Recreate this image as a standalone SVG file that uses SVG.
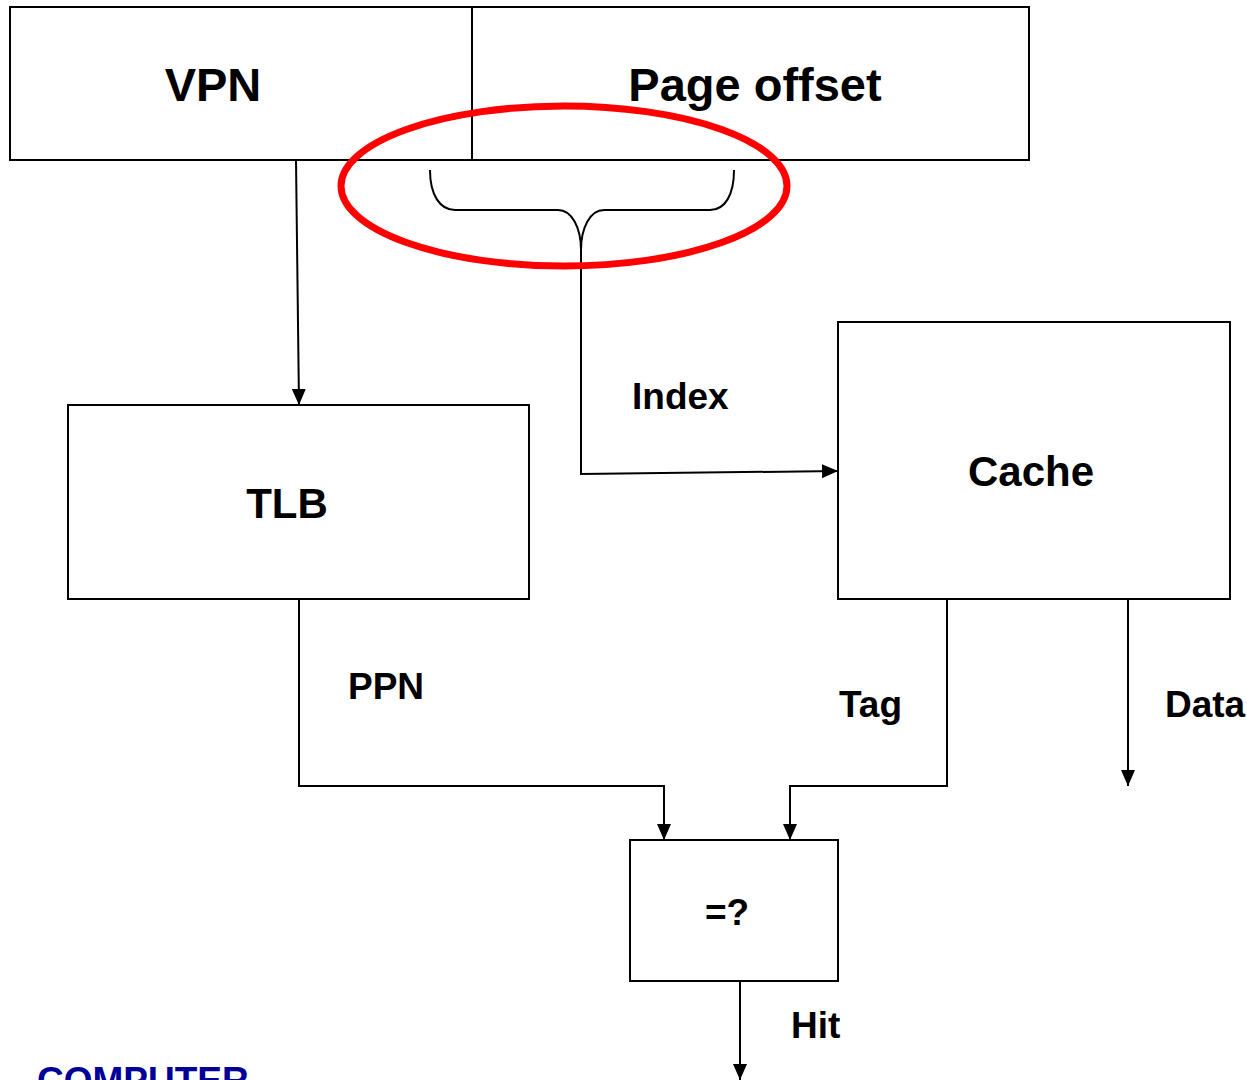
<svg xmlns="http://www.w3.org/2000/svg" width="1247" height="1080" viewBox="0 0 1247 1080">
  <style>
    .box { fill: #ffffff; stroke: #000000; stroke-width: 2; }
    .wire { fill: none; stroke: #000000; stroke-width: 2; }
    .big { font-family: "Liberation Sans", Arial, sans-serif; font-weight: bold; font-size: 47px; fill: #000000; }
    .mid { font-family: "Liberation Sans", Arial, sans-serif; font-weight: bold; font-size: 42px; fill: #000000; }
    .lbl { font-family: "Liberation Sans", Arial, sans-serif; font-weight: bold; font-size: 37px; fill: #000000; }
  </style>
  <defs>
    <marker id="arrow" viewBox="0 0 16 14" refX="16" refY="7" markerWidth="16" markerHeight="14" markerUnits="userSpaceOnUse" orient="auto">
      <path d="M0,0 L16,7 L0,14 Z" fill="#000000"/>
    </marker>
  </defs>
  <rect width="1247" height="1080" fill="#ffffff"/>

  <!-- virtual address: VPN | Page offset -->
  <g id="address">
    <rect class="box" x="10" y="7" width="1019" height="153"/>
    <line class="wire" x1="472" y1="7" x2="472" y2="160"/>
    <text class="big" x="213" y="101" text-anchor="middle">VPN</text>
    <text class="big" x="755" y="101" text-anchor="middle">Page offset</text>
  </g>

  <g id="tlb">
    <rect class="box" x="68" y="405" width="461" height="194"/>
    <text class="mid" x="287" y="518" text-anchor="middle">TLB</text>
  </g>

  <g id="cache">
    <rect class="box" x="838" y="322" width="392" height="277"/>
    <text class="mid" x="1031" y="486" text-anchor="middle">Cache</text>
  </g>

  <g id="compare">
    <rect class="box" x="630" y="840" width="208" height="141"/>
    <text class="lbl" x="727" y="925" text-anchor="middle">=?</text>
  </g>

  <g id="connectors">
    <!-- VPN to TLB -->
    <path class="wire" d="M296,160 L299,405" marker-end="url(#arrow)"/>
    <!-- brace over the index bits -->
    <path class="wire" d="M430,170 C430,195 440,210 455,210 L558,210 C572,210 581,228 581,250 C581,228 590,210 604,210 L710,210 C725,210 734,195 734,170"/>
    <!-- index into the cache -->
    <path class="wire" d="M581,250 L581,474 L838,471" marker-end="url(#arrow)"/>
    <!-- PPN to comparator -->
    <path class="wire" d="M299,599 L299,786 L664,786 L664,840" marker-end="url(#arrow)"/>
    <!-- tag to comparator -->
    <path class="wire" d="M947,599 L947,786 L790,786 L790,840" marker-end="url(#arrow)"/>
    <!-- data out -->
    <path class="wire" d="M1128,599 L1128,786" marker-end="url(#arrow)"/>
    <!-- hit out -->
    <path class="wire" d="M740,981 L740,1080" marker-end="url(#arrow)"/>
  </g>

  <g id="labels">
    <text class="lbl" x="632" y="409">Index</text>
    <text class="lbl" x="348" y="699">PPN</text>
    <text class="lbl" x="839" y="717">Tag</text>
    <text class="lbl" x="1165" y="717">Data</text>
    <text class="lbl" x="791" y="1038">Hit</text>
  </g>

  <!-- highlight around the index bits -->
  <ellipse id="highlight" cx="564" cy="186" rx="223" ry="80" fill="none" stroke="#ff0000" stroke-width="7"/>

  <text x="37" y="1093" font-family="'Liberation Sans', Arial, sans-serif" font-weight="bold" font-size="37" fill="#000099">COMPUTER</text>
</svg>
